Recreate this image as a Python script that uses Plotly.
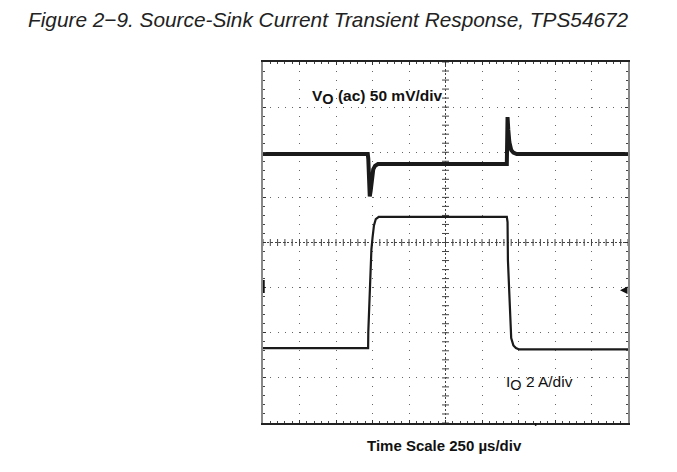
import plotly.graph_objects as go

# Oscilloscope screen: 10 horizontal divisions, 8 vertical divisions (centre = 0)
# Output voltage (ac) trace, in divisions
vo_t = [0.0, 2.87, 2.885, 2.90, 2.925, 2.95, 2.98, 3.02, 3.07, 3.15, 6.68, 6.69, 6.70, 6.72, 6.75, 6.80, 6.86, 6.95, 10.0]
vo_v = [1.96, 1.96, 1.85, 1.30, 1.02, 1.15, 1.45, 1.62, 1.70, 1.74, 1.74, 2.00, 2.78, 2.50, 2.22, 2.05, 1.99, 1.96, 1.96]

# Output current trace, in divisions
io_t = [0.0, 2.88, 2.885, 2.91, 2.93, 2.945, 2.97, 3.00, 3.04, 3.09, 3.17, 6.68, 6.70, 6.71, 6.74, 6.77, 6.80, 6.86, 6.93, 7.02, 10.0]
io_v = [-2.34, -2.34, -1.98, -1.45, -0.99, -0.53, -0.15, 0.10, 0.38, 0.52, 0.57, 0.57, 0.45, -0.39, -1.00, -1.80, -2.12, -2.28, -2.34, -2.37, -2.37]

# Centre graticule minor ticks
minor_x = [i / 5 for i in range(51)]
minor_y = [-4 + i / 5 for i in range(41)]

# page body has an 8px default margin; figure placed so the screen spans x 263-628, y 62-423
W, H = 661, 456

fig = go.Figure()

fig.add_trace(go.Scatter(x=minor_x, y=[0] * len(minor_x), mode="markers",
                         marker=dict(symbol="line-ns", size=5, line=dict(width=1, color="#444")),
                         hoverinfo="skip", showlegend=False))
fig.add_trace(go.Scatter(x=[5] * len(minor_y), y=minor_y, mode="markers",
                         marker=dict(symbol="line-ew", size=5, line=dict(width=1, color="#444")),
                         hoverinfo="skip", showlegend=False))

fig.add_trace(go.Scatter(x=vo_t, y=vo_v, mode="lines",
                         line=dict(color="#1a1a1a", width=4), hoverinfo="skip", showlegend=False))
fig.add_trace(go.Scatter(x=io_t, y=io_v, mode="lines",
                         line=dict(color="#1a1a1a", width=2.2), hoverinfo="skip", showlegend=False))

fig.add_shape(type="line", x0=0, x1=10, y0=0, y1=0, xref="x", yref="y",
              line=dict(color="#444", width=1, dash="2px,2px"), layer="below")
fig.add_shape(type="line", x0=5, x1=5, y0=-4, y1=4, xref="x", yref="y",
              line=dict(color="#444", width=1, dash="2px,2px"), layer="below")
# channel ground marker on left edge
fig.add_shape(type="line", x0=0.02, x1=0.02, y0=-0.83, y1=-1.12, xref="x", yref="y",
              line=dict(color="#111", width=2))
# trigger marker under bottom edge
fig.add_shape(type="line", x0=7.47, x1=7.47, y0=0, y1=-0.008, xref="x", yref="paper",
              line=dict(color="#111", width=1.5))

# reference arrow on right edge
fig.add_annotation(x=9.78, y=-1.06, ax=10.0, ay=-1.06, xref="x", yref="y", axref="x", ayref="y",
                   showarrow=True, arrowhead=2, arrowsize=1, arrowwidth=1.5, arrowcolor="#111", text="")

font_fam = "Liberation Sans, Arial, sans-serif"
fig.add_annotation(x=1.30, y=3.22, xref="x", yref="y", xanchor="left", yanchor="middle",
                   text="<b>V<sub><span style='font-size:14.5px'>O</span></sub> (ac) 50 mV/div</b>",
                   showarrow=False, font=dict(family=font_fam, size=15.5, color="#111"))
fig.add_annotation(x=6.60, y=-3.12, xref="x", yref="y", xanchor="left", yanchor="middle",
                   text="I<sub><span style='font-size:14.5px'>O</span></sub> 2 A/div", showarrow=False,
                   font=dict(family=font_fam, size=15.5, color="#111"))
fig.add_annotation(x=0.496, y=-0.063, xref="paper", yref="paper", xanchor="center", yanchor="middle",
                   text="<b>Time Scale 250 µs/div</b>", showarrow=False,
                   font=dict(family=font_fam, size=15, color="#111"))

axis_common = dict(showticklabels=False, showline=True, mirror="allticks", ticks="inside",
                   ticklen=3, tickcolor="#333", zeroline=False, showgrid=True, gridwidth=1,
                   fixedrange=True)

fig.update_layout(
    width=W, height=H,
    margin=dict(l=255, r=41, t=54, b=41),
    paper_bgcolor="white", plot_bgcolor="white",
    title=dict(text="<i>Figure 2−9. Source-Sink Current Transient Response, TPS54672</i>",
               x=20 / W, xanchor="left", xref="container",
               y=1 - 12 / H, yanchor="middle", yref="container",
               font=dict(family=font_fam, size=20.8, color="#222")),
    xaxis=dict(range=[0, 10], dtick=1, linecolor="#222", linewidth=1.5,
               gridcolor="#666", griddash="1px,8px",
               minor=dict(dtick=0.2, ticks="inside", ticklen=2, tickcolor="#444", showgrid=False),
               **axis_common),
    yaxis=dict(range=[-4, 4], dtick=1, linecolor="#888", linewidth=1.5,
               gridcolor="#666", griddash="1px,6.3px",
               minor=dict(dtick=0.2, ticks="inside", ticklen=2, tickcolor="#444", showgrid=False),
               **axis_common),
)

fig.write_html("out.html")
